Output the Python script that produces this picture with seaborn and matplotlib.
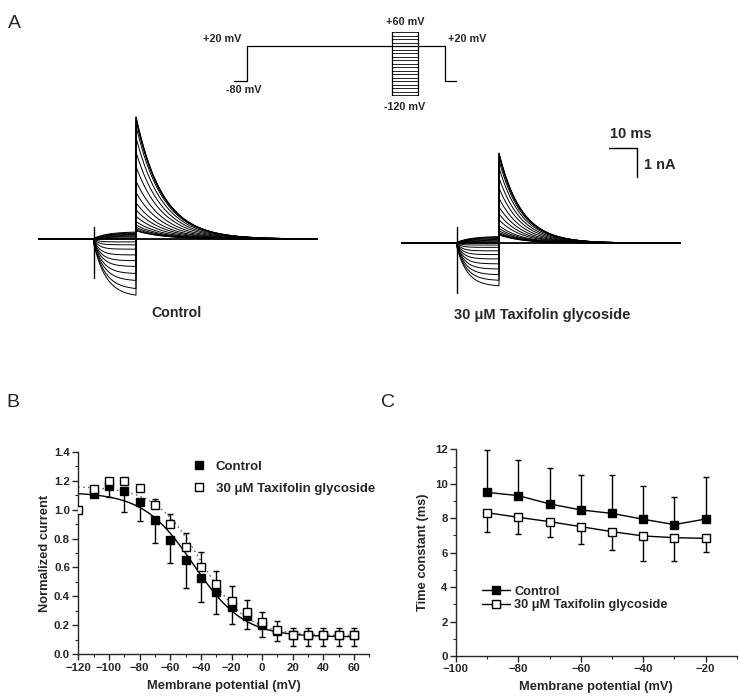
import numpy as np
import pandas as pd
import seaborn as sns
import matplotlib.pyplot as plt
from matplotlib.ticker import MultipleLocator
from matplotlib.lines import Line2D

# ---------------- data ----------------
# test potentials (mV) of the protocol / traces
test_mv = np.arange(-120, 61, 10)

# panel A: peak tail current (nA) and end-of-step current (nA) for each test potential
ctrl_peak = [4.22, 4.15, 4.2, 4.1, 3.9, 3.5, 3.0, 2.5, 2.0, 1.6, 1.25, 1.0, 0.78, 0.6, 0.48, 0.4, 0.34, 0.3, 0.28]
ctrl_step = [-2.0, -1.75, -1.45, -1.2, -0.95, -0.75, -0.55, -0.35, -0.2, -0.1, 0.0, 0.04, 0.08, 0.11, 0.14, 0.17, 0.2, 0.22, 0.25]
taxi_peak = [3.1, 3.05, 3.1, 3.0, 2.85, 2.6, 2.25, 1.9, 1.55, 1.25, 1.0, 0.8, 0.6, 0.5, 0.42, 0.36, 0.32, 0.3, 0.28]
taxi_step = [-1.5, -1.3, -1.1, -0.9, -0.72, -0.55, -0.4, -0.27, -0.15, -0.07, 0.0, 0.04, 0.07, 0.1, 0.13, 0.16, 0.19, 0.21, 0.23]
ctrl_tau, taxi_tau = 9.5, 8.0          # tail decay (ms)
ctrl_artifact = (-1.34, 0.41)          # capacitive spike (nA)
taxi_artifact = (-1.72, 0.55)
t_step1, t_step2, t_end = 20.0, 35.0, 100.0

# protocol
prot_t = [0, 4.7, 4.7, 75.7, 75.7, 80]
prot_v = [-80, -80, 20, 20, -80, -80]
box_t = (56.7, 66.0)

# panel B: steady-state inactivation
b_ctrl_v = [-110, -100, -90, -80, -70, -60, -50, -40, -30, -20, -10, 0, 10, 20, 30, 40, 50, 60]
b_ctrl = [1.11, 1.16, 1.13, 1.05, 0.93, 0.79, 0.65, 0.53, 0.43, 0.33, 0.265, 0.2, 0.16, 0.13, 0.13, 0.13, 0.13, 0.13]
b_ctrl_err = [0.02, 0.07, 0.15, 0.13, 0.16, 0.16, 0.19, 0.17, 0.15, 0.12, 0.09, 0.08, 0.07, 0.07, 0.07, 0.07, 0.07, 0.07]
b_taxi_v = [-120, -110, -100, -90, -80, -70, -60, -50, -40, -30, -20, -10, 0, 10, 20, 30, 40, 50, 60]
b_taxi = [1.0, 1.14, 1.2, 1.2, 1.15, 1.035, 0.9, 0.74, 0.6, 0.485, 0.37, 0.295, 0.22, 0.168, 0.134, 0.134, 0.134, 0.134, 0.134]
b_taxi_err = [0, 0, 0, 0, 0, 0.04, 0.07, 0.1, 0.11, 0.09, 0.1, 0.08, 0.07, 0.065, 0.05, 0.05, 0.05, 0.05, 0.05]
# Boltzmann fit parameters (top, bottom, V1/2, k)
fit_ctrl = (1.12, 0.12, -44.8, 16.4)
fit_taxi = (1.16, 0.13, -40.0, 15.0)

# panel C: inactivation time constants
c_v = [-90, -80, -70, -60, -50, -40, -30, -20]
c_ctrl = [9.5, 9.31, 8.83, 8.48, 8.28, 7.94, 7.63, 7.95]
c_ctrl_err = [2.46, 2.07, 2.11, 2.03, 2.23, 1.93, 1.62, 2.42]
c_taxi = [8.32, 8.05, 7.8, 7.51, 7.22, 6.97, 6.87, 6.83]
c_taxi_err = [1.1, 0.97, 0.91, 1.01, 1.07, 1.43, 1.33, 0.77]

# ---------------- style ----------------
sns.set_style("ticks")
plt.rcParams['font.family'] = ['Liberation Sans', 'DejaVu Sans']
plt.rcParams['font.weight'] = 'bold'
plt.rcParams['axes.labelweight'] = 'bold'

W, H = 739, 698
fig = plt.figure(figsize=(W / 100, H / 100), dpi=100)


def px_axes(l, t, r, b):
    return fig.add_axes([l / W, 1 - b / H, (r - l) / W, (b - t) / H])


def ftext(x, y, s, **kw):
    fig.text(x / W, 1 - y / H, s, ha=kw.pop('ha', 'center'), va=kw.pop('va', 'center'), **kw)


def build_traces(peaks, steps, tau):
    rows = []
    for v, pk, ss in zip(test_mv, peaks, steps):
        t0 = np.array([0.0, t_step1])
        i0 = np.zeros(2)
        t1 = np.linspace(t_step1, t_step2, 150)
        dt = t1 - t_step1
        ta = 1.5 + 1.5 * abs(ss) if ss < 0 else 5.0
        i1 = ss * (1 - 0.9 * np.exp(-dt / ta))
        t2 = np.linspace(t_step2, t_end, 400)
        i2 = pk * np.exp(-(t2 - t_step2) / tau)
        t = np.concatenate([t0, t1, t2])
        i = np.concatenate([i0, i1, i2])
        rows.append(pd.DataFrame({'t': t, 'I': i, 'v': v}))
    return pd.concat(rows, ignore_index=True)


def trace_panel(ax, peaks, steps, tau, artifact):
    df = build_traces(peaks, steps, tau)
    sns.lineplot(data=df, x='t', y='I', units='v', estimator=None, sort=False,
                 color='black', lw=0.7, ax=ax, legend=False)
    ax.plot([t_step1, t_step1], artifact, color='black', lw=1.0)
    ax.plot([0, t_end], [0, 0], color='black', lw=1.3)
    ax.set_xlim(0, t_end)
    ax.set_ylim(-2.6, 4.6)
    ax.axis('off')


# ---------------- panel A ----------------
ftext(14, 23, 'A', fontsize=14, fontweight='normal')

axp = px_axes(234, 28.5, 457, 98.5)
axp.plot(prot_t, prot_v, color='black', lw=0.9)
for lv in test_mv:
    axp.plot(box_t, [lv, lv], color='black', lw=0.6)
axp.plot([box_t[0]] * 2, [-120, 60], color='black', lw=0.9)
axp.plot([box_t[1]] * 2, [-120, 60], color='black', lw=0.9)
axp.set_xlim(0, 80)
axp.set_ylim(-130, 70)
axp.axis('off')
ftext(222, 39, '+20 mV', fontsize=7.8)
ftext(244, 90, '-80 mV', fontsize=7.8)
ftext(405, 22, '+60 mV', fontsize=7.8)
ftext(405, 107, '-120 mV', fontsize=7.8)
ftext(467, 39, '+20 mV', fontsize=7.8)

ax_c = px_axes(38, 105.6, 318, 314.4)
trace_panel(ax_c, ctrl_peak, ctrl_step, ctrl_tau, ctrl_artifact)
ax_t = px_axes(401, 109.6, 681, 318.4)
trace_panel(ax_t, taxi_peak, taxi_step, taxi_tau, taxi_artifact)

# scale bar (10 ms, 1 nA)
bar_t0, bar_i0 = 74.3, 3.28
ax_t.plot([bar_t0, bar_t0 + 10, bar_t0 + 10], [bar_i0, bar_i0, bar_i0 - 1], color='black', lw=1.0)
ftext(631, 134, '10 ms', fontsize=10.5)
ftext(660, 165, '1 nA', fontsize=10.5)

ftext(177, 313, 'Control', fontsize=10.2)
ftext(542, 315, '30 μM Taxifolin glycoside', fontsize=10.5)


def style_axis(ax):
    sns.despine(ax=ax)
    for s in ['left', 'bottom']:
        ax.spines[s].set_linewidth(1.0)
    ax.tick_params(which='major', length=4, width=1, labelsize=8.2, pad=2)
    ax.tick_params(which='minor', length=2, width=0.8)
    for lab in ax.get_xticklabels() + ax.get_yticklabels():
        lab.set_fontweight('bold')


# ---------------- panel B ----------------
ftext(13, 403, 'B', fontsize=14, fontweight='normal')
axb = px_axes(78.3, 451.7, 369.4, 654.3)
vv = np.linspace(-120, 60, 300)


def boltz(v, p):
    top, bot, vh, k = p
    return bot + (top - bot) / (1 + np.exp((v - vh) / k))


axb.plot(vv, boltz(vv, fit_taxi), color='#555555', lw=1.0, ls=(0, (1, 2.5)))
axb.plot(vv, boltz(vv, fit_ctrl), color='black', lw=1.0)
axb.errorbar(b_ctrl_v, b_ctrl, yerr=[b_ctrl_err, np.zeros(len(b_ctrl))], fmt='s', color='black',
             ms=5.5, mfc='black', mec='black', capsize=2.5, elinewidth=1, capthick=1, zorder=3)
axb.errorbar(b_taxi_v, b_taxi, yerr=[np.zeros(len(b_taxi)), b_taxi_err], fmt='s', color='black',
             ms=5.5, mfc='white', mec='black', mew=1, capsize=2.5, elinewidth=1, capthick=1, zorder=4)
axb.set_xlim(-120, 70)
axb.set_ylim(0, 1.4)
axb.xaxis.set_minor_locator(MultipleLocator(10))
axb.yaxis.set_major_locator(MultipleLocator(0.2))
axb.yaxis.set_minor_locator(MultipleLocator(0.1))
axb.set_xticks(np.arange(-120, 61, 20))
axb.yaxis.set_major_formatter(plt.FormatStrFormatter('%.1f'))
axb.set_xlabel('Membrane potential (mV)', fontsize=9.3, fontweight='bold', labelpad=5)
axb.set_ylabel('Normalized current', fontsize=9.3, fontweight='bold', labelpad=2)
style_axis(axb)
hb = [Line2D([], [], ls='none', marker='s', ms=5.5, mfc='black', mec='black'),
      Line2D([], [], ls='none', marker='s', ms=5.5, mfc='white', mec='black')]
axb.legend(hb, ['Control', '30 μM Taxifolin glycoside'], loc='upper left',
           bbox_to_anchor=(0.391, 0.955), frameon=False, handlelength=1.0, handletextpad=0.8,
           borderpad=0, borderaxespad=0, labelspacing=0.7, prop={'size': 9.5, 'weight': 'bold'})

# ---------------- panel C ----------------
ftext(388, 403, 'C', fontsize=14, fontweight='normal')
axc = px_axes(456, 449.3, 736.7, 656)
axc.errorbar(c_v, c_ctrl, yerr=[np.zeros(len(c_ctrl)), c_ctrl_err], fmt='-s', color='black',
             ms=6, mfc='black', mec='black', lw=1, capsize=2.5, elinewidth=1, capthick=1)
axc.errorbar(c_v, c_taxi, yerr=[c_taxi_err, np.zeros(len(c_taxi))], fmt='-s', color='black',
             ms=6, mfc='white', mec='black', mew=1, lw=1, capsize=2.5, elinewidth=1, capthick=1)
axc.set_xlim(-100, -10)
axc.set_ylim(0, 12)
axc.set_xticks(np.arange(-100, -19, 20))
axc.xaxis.set_minor_locator(MultipleLocator(10))
axc.yaxis.set_major_locator(MultipleLocator(2))
axc.yaxis.set_minor_locator(MultipleLocator(1))
axc.set_xlabel('Membrane potential (mV)', fontsize=9.3, fontweight='bold', labelpad=5)
axc.set_ylabel('Time constant (ms)', fontsize=9.3, fontweight='bold', labelpad=4)
style_axis(axc)
hc = [Line2D([], [], color='black', lw=1, marker='s', ms=6, mfc='black', mec='black'),
      Line2D([], [], color='black', lw=1, marker='s', ms=6, mfc='white', mec='black')]
axc.legend(hc, ['Control', '30 μM Taxifolin glycoside'], loc='upper left',
           bbox_to_anchor=(0.093, 0.34), frameon=False, handlelength=2.2, handletextpad=0.3,
           borderpad=0, borderaxespad=0, labelspacing=0.1, prop={'size': 9.2, 'weight': 'bold'})

plt.savefig('out.png', dpi=100)
